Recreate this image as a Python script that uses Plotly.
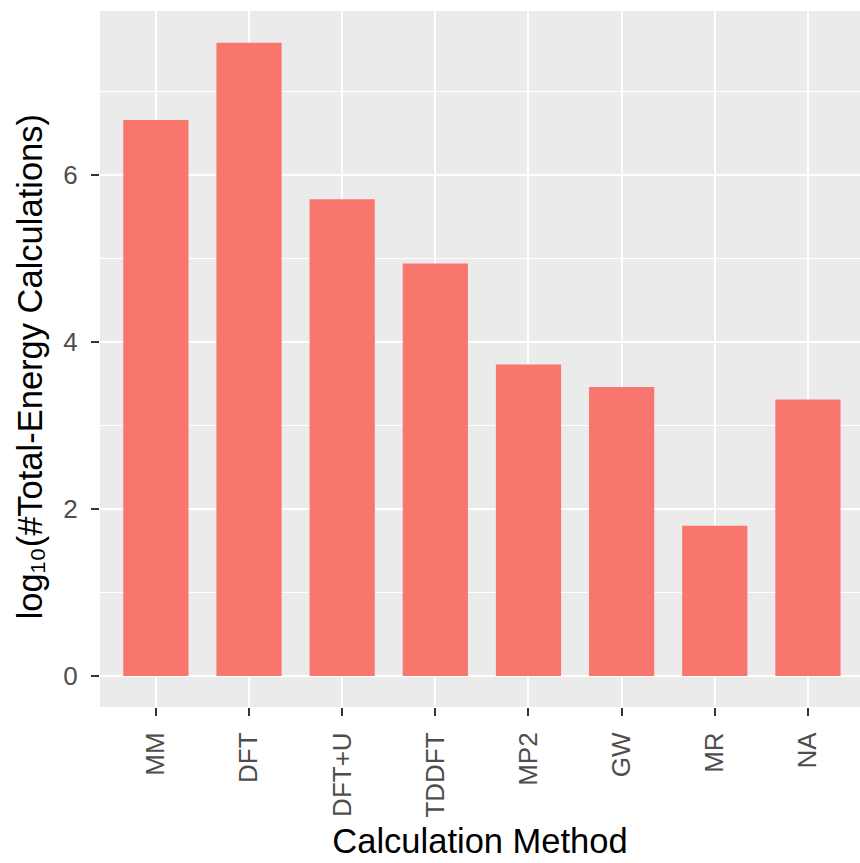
import plotly.graph_objects as go

# Total-energy calculation counts per method (log10 scale)
methods = ["MM", "DFT", "DFT+U", "TDDFT", "MP2", "GW", "MR", "NA"]
log_counts = [6.66, 7.585, 5.71, 4.94, 3.73, 3.46, 1.80, 3.31]

y_ticks = [0, 2, 4, 6]

FONT = "Liberation Sans, Arial, sans-serif"

fig = go.Figure(
    go.Bar(
        x=methods,
        y=log_counts,
        width=0.7,
        marker=dict(color="#F8766D", line=dict(width=0)),
    )
)

fig.update_layout(
    width=860,
    height=863,
    margin=dict(l=100, r=0, t=11, b=156),
    paper_bgcolor="white",
    plot_bgcolor="#EBEBEB",
    showlegend=False,
    font=dict(family=FONT),
)

fig.update_xaxes(
    type="category",
    range=[-0.6, 7.559],
    showgrid=True,
    gridcolor="white",
    gridwidth=2.4,
    zeroline=False,
    ticks="outside",
    ticklen=8,
    tickwidth=1.6,
    tickcolor="#333333",
    tickangle=-90,
    tickfont=dict(family=FONT, size=26, color="#4D4D4D"),
    ticklabelstandoff=6,
    title=dict(
        text="Calculation Method",
        font=dict(family=FONT, size=34.5, color="black"),
        standoff=12,
    ),
    automargin=False,
)

fig.update_yaxes(
    range=[-0.371, 7.964],
    tickvals=y_ticks,
    ticktext=[str(v) for v in y_ticks],
    showgrid=True,
    gridcolor="white",
    gridwidth=2.4,
    minor=dict(dtick=1, showgrid=True, gridcolor="white", gridwidth=1.2, ticks=""),
    zeroline=False,
    ticks="outside",
    ticklen=8,
    tickwidth=1.6,
    tickcolor="#333333",
    tickfont=dict(family=FONT, size=26, color="#4D4D4D"),
    ticklabelstandoff=8,
    automargin=False,
)

# y-axis title, centred on the panel's vertical extent
fig.add_annotation(
    text="log₁₀(#Total-Energy Calculations)",
    textangle=-90,
    xref="paper",
    yref="paper",
    x=-0.0921,
    y=0.488,
    xanchor="center",
    yanchor="middle",
    showarrow=False,
    font=dict(family=FONT, size=34.5, color="black"),
)

fig.write_html("out.html")
